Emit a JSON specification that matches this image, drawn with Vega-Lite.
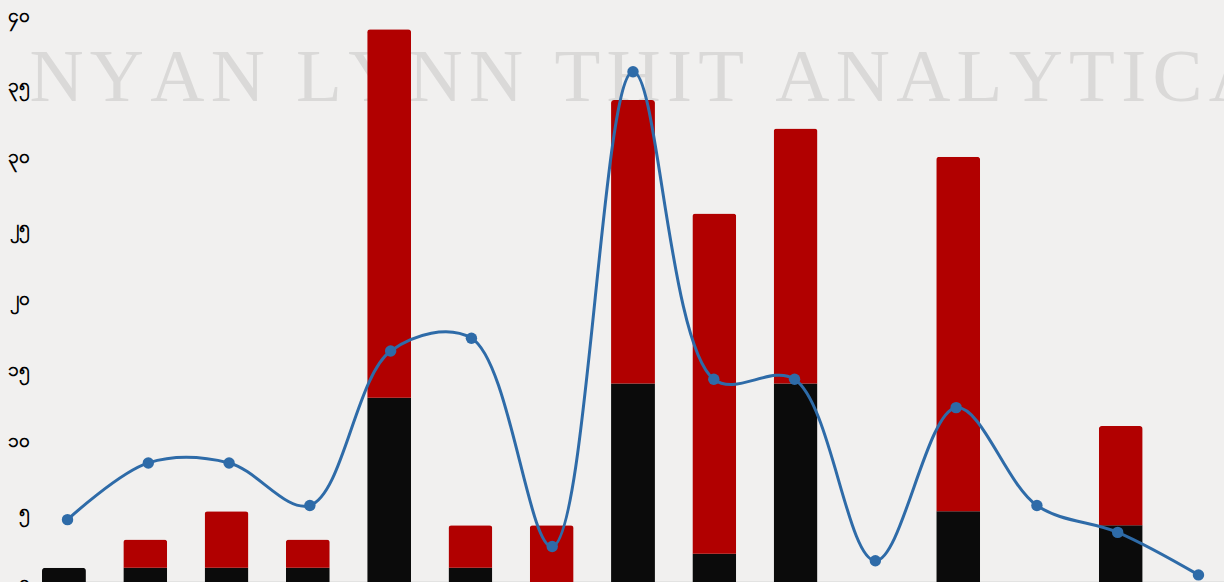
{
  "$schema": "https://vega.github.io/schema/vega-lite/v6.json",
  "autosize": {"type": "none"},
  "width": 1182,
  "height": 567,
  "padding": {"left": 42, "top": 15, "right": 0, "bottom": 0},
  "background": "#f1f0ef",
  "config": {"view": {"stroke": null}},
  "data": {
    "values": [
      {"i": 1, "black": 1, "red": 0, "avg": 4.4},
      {"i": 2, "black": 1, "red": 2, "avg": 8.4},
      {"i": 3, "black": 1, "red": 4, "avg": 8.4},
      {"i": 4, "black": 1, "red": 2, "avg": 5.4},
      {"i": 5, "black": 13, "red": 26, "avg": 16.3},
      {"i": 6, "black": 1, "red": 3, "avg": 17.2},
      {"i": 7, "black": 0, "red": 4, "avg": 2.5},
      {"i": 8, "black": 14, "red": 20, "avg": 36.0},
      {"i": 9, "black": 2, "red": 24, "avg": 14.3},
      {"i": 10, "black": 14, "red": 18, "avg": 14.3},
      {"i": 11, "black": 0, "red": 0, "avg": 1.5},
      {"i": 12, "black": 5, "red": 25, "avg": 12.3},
      {"i": 13, "black": 0, "red": 0, "avg": 5.4},
      {"i": 14, "black": 4, "red": 7, "avg": 3.5},
      {"i": 15, "black": 0, "red": 0, "avg": 0.5}
    ]
  },
  "layer": [
    {
      "data": {"values": [{"t": "N\u200aY\u200aA\u200aN\u200a \u200aL\u200aY\u200aN\u200aN\u200a \u200aT\u200aH\u200aI\u200aT\u200a \u200aA\u200aN\u200aA\u200aL\u200aY\u200aT\u200aI\u200aC\u200aA"}]},
      "mark": {"type": "text", "align": "left", "baseline": "alphabetic", "font": "Liberation Serif", "fontSize": 75, "color": "#dad9d8", "dx": -52},
      "encoding": {
        "x": {"datum": 1, "type": "ordinal", "bandPosition": 0, "scale": {"domain": [1,2,3,4,5,6,7,8,9,10,11,12,13,14,15], "paddingInner": 0.46, "paddingOuter": 0}, "axis": null},
        "y": {"datum": 33.9, "type": "quantitative"},
        "text": {"field": "t"}
      }
    },
    {
      "transform": [{"fold": ["black", "red"], "as": ["k", "v"]}],
      "mark": {"type": "bar", "cornerRadiusTopLeft": 3, "cornerRadiusTopRight": 3},
      "encoding": {
        "x": {
          "field": "i", "type": "ordinal",
          "scale": {"paddingInner": 0.46, "paddingOuter": 0},
          "axis": {"title": null, "labels": false, "ticks": false, "domainColor": "#bdbdbd", "domainWidth": 1.5}
        },
        "y": {
          "field": "v", "type": "quantitative", "stack": "zero",
          "scale": {"domain": [0, 40], "nice": false},
          "axis": {
            "title": null, "values": [0, 5, 10, 15, 20, 25, 30, 35, 40],
            "ticks": false, "domain": false, "gridColor": "#bcbcbc", "gridWidth": 1,
            "labelFontSize": 19, "labelFontWeight": "bold", "labelColor": "#000000", "labelPadding": 13,
            "labelExpr": "replace(replace(replace(replace(replace(replace(datum.label,'0','\u1040'),'1','\u1041'),'2','\u1042'),'3','\u1043'),'4','\u1044'),'5','\u1045')"
          }
        },
        "color": {
          "field": "k", "type": "nominal",
          "scale": {"domain": ["black", "red"], "range": ["#0b0b0b", "#b10000"]},
          "legend": null
        },
        "order": {"field": "k", "sort": "ascending"}
      }
    },
    {
      "mark": {"type": "line", "interpolate": "catmull-rom", "color": "#2e6ba8", "strokeWidth": 3, "point": {"filled": true, "size": 130, "color": "#2e6ba8"}},
      "encoding": {
        "x": {"field": "i", "type": "ordinal", "scale": {"type": "point", "padding": 0.316}, "axis": null},
        "y": {"field": "avg", "type": "quantitative"}
      }
    }
  ],
  "resolve": {"scale": {"x": "independent"}}
}
